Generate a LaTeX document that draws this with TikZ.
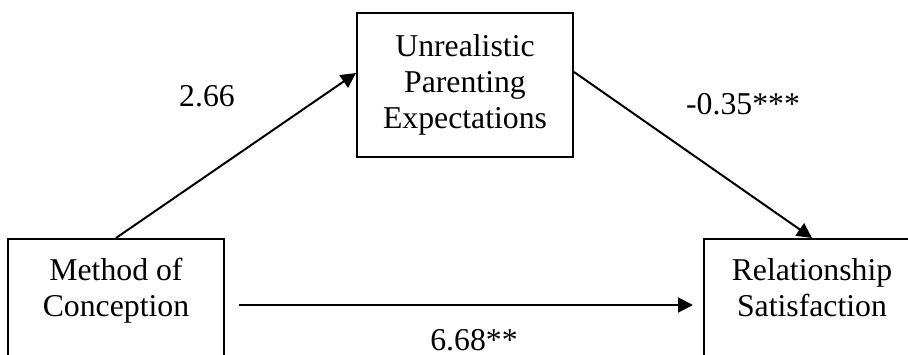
\documentclass[tikz,border=0pt]{standalone}
\usepackage{fontspec}
\setmainfont{Liberation Serif}
\usetikzlibrary{positioning,arrows.meta,calc}
\tikzset{
  varbox/.style={rectangle,draw=black,line width=0.8pt,align=center,minimum width=86.4pt,minimum height=57.6pt,inner sep=0pt,font=\fontsize{12.7}{14.4}\selectfont},
  coef/.style={inner sep=0pt,font=\fontsize{12.7}{14.4}\selectfont},
  edge/.style={-{Triangle[length=6pt,width=6pt]},line width=0.8pt}
}
\begin{document}
\begin{tikzpicture}[x=0.4pt,y=0.4pt]
  \clip (0,0) rectangle (908,354);
  \useasboundingbox (0,0) rectangle (908,354);
  % variables
  \node[varbox] (expect) at (465,269) {Unrealistic\\Parenting\\Expectations};
  \node[varbox] (method) at (116,43) {Method of\\Conception\\\strut};
  \node[varbox] (relsat) at (812,43) {Relationship\\Satisfaction\\\strut};
  % paths
  \draw[edge] (method.north) -- ($(expect.west)+(0,12)$);
  \draw[edge] ($(expect.east)+(0,13)$) -- (relsat.north);
  \draw[edge] ($(method.east)+(14,6)$) -- ($(relsat.west)+(-10,6)$);
  % coefficients
  \node[coef] (apath) at (207,258) {2.66};
  \node[coef] (bpath) at (743,250) {-0.35***};
  \node[coef] (cpath) at (474,14) {6.68**};
\end{tikzpicture}
\end{document}
